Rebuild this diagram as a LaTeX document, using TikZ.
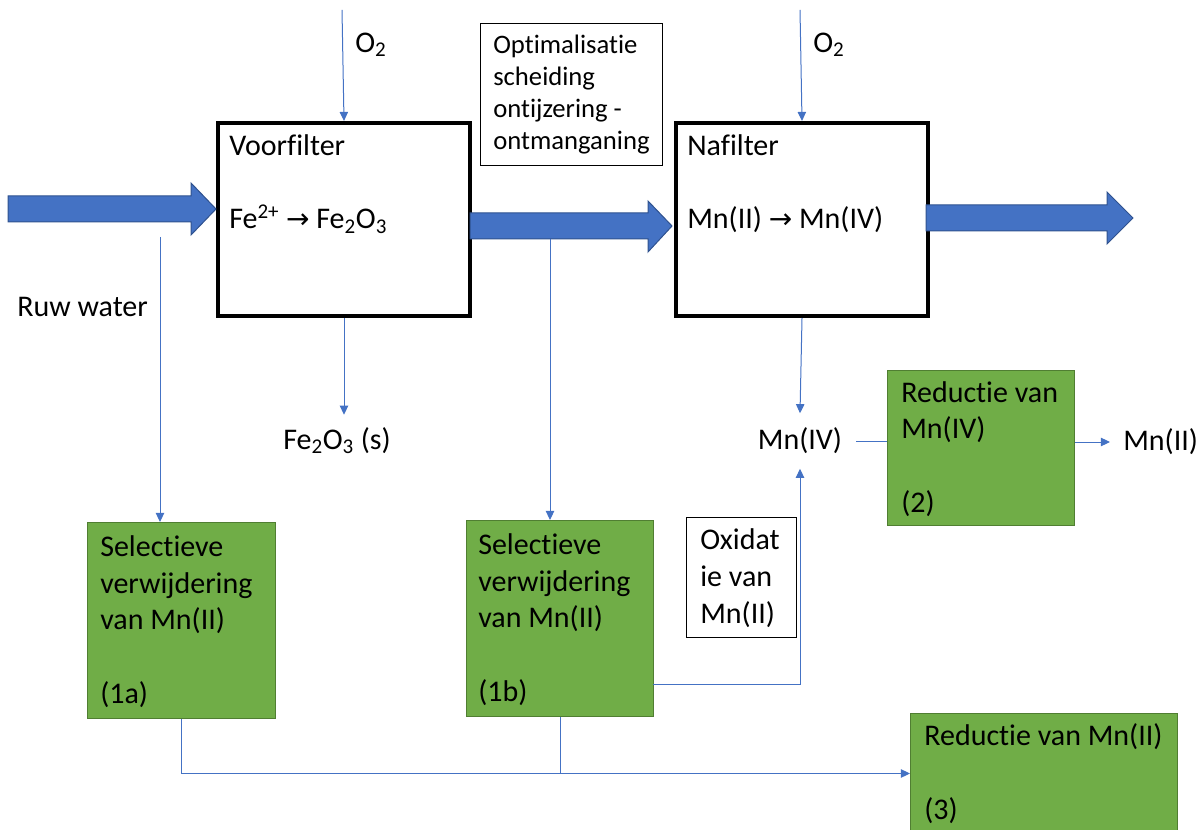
\documentclass[tikz,border=0pt]{standalone}
\usepackage{fontspec}
\setmainfont{Carlito}[Ligatures=NoCommon]
\newfontfamily\arrowfont{DejaVu Sans}
\usetikzlibrary{arrows.meta,positioning}

\definecolor{officeblue}{HTML}{4472C4}
\definecolor{arrowedge}{HTML}{2F528F}
\definecolor{officegreen}{HTML}{70AD47}
\definecolor{greenedge}{HTML}{507E32}

\newcommand{\reacts}{{\arrowfont\fontsize{21}{22}\selectfont →}}

\begin{document}
\begin{tikzpicture}[x=0.75pt, y=-0.75pt,
  flow/.style={draw=officeblue, line width=0.75pt},
  flowarrow/.style={flow, -{Triangle[width=6.3pt,length=6.8pt]}},
  bigarrow/.style={fill=officeblue, draw=arrowedge, line width=0.75pt},
  filterbox/.style={draw=black, line width=3pt, anchor=north west, inner sep=0pt,
    minimum width=252*0.75pt, minimum height=193*0.75pt},
  stepbox/.style={draw=greenedge, fill=officegreen, line width=0.75pt, anchor=north west, inner sep=0pt},
  notebox/.style={draw=black, line width=0.75pt, anchor=north west, inner sep=0pt},
  % text blocks are placed by the baseline of their last line
  boxtext/.style={anchor=base west, inner sep=0pt, align=left, font=\fontsize{22.5}{27.5}\selectfont},
  smalltext/.style={boxtext, font=\fontsize{20}{24}\selectfont},
  lbl/.style={font=\fontsize{22.5}{27.5}\selectfont}
]

  \useasboundingbox (0,0) rectangle (1201,830);

  % Filters
  \node[filterbox] (vf) at (216,121) {};
  \node[filterbox] (nf) at (674,121) {};
  \node[boxtext] (vf-txt) at (229,229) {Voorfilter\\[27.5pt]Fe\textsuperscript{2+} \reacts{} Fe\textsubscript{2}O\textsubscript{3}};
  \node[boxtext] (nf-txt) at (687,229) {Nafilter\\[27.5pt]Mn(II) \reacts{} Mn(IV)};

  % Note between the filters
  \node[notebox, minimum width=182*0.75pt, minimum height=142*0.75pt] (opt) at (480,23) {};
  \node[smalltext] (opt-txt) at (493,150) {Optimalisatie\\scheiding\\ontijzering -\\ontmanganing};

  % Main water flow
  \draw[bigarrow] (8,196) -- (191,196) -- (191,183) -- (216,209) -- (191,235) -- (191,222) -- (8,222) -- cycle;
  \draw[bigarrow] (470,213) -- (648,213) -- (648,201) -- (672,226) -- (648,252) -- (648,239) -- (470,239) -- cycle;
  \draw[bigarrow] (926,205) -- (1107,205) -- (1107,192) -- (1133,218) -- (1107,244) -- (1107,231) -- (926,231) -- cycle;

  % Oxygen feeds
  \coordinate (o2-vf) at (342,10);
  \coordinate (o2-nf) at (800,10);
  \draw[flowarrow] (o2-vf) -- (vf.north);
  \draw[flowarrow] (o2-nf) -- (nf.north);
  \node[lbl, anchor=west, inner sep=0pt] (o2-vf-lbl) at (355,45) {O\textsubscript{2}};
  \node[lbl, anchor=west, inner sep=0pt] (o2-nf-lbl) at (813,45) {O\textsubscript{2}};

  % Iron sludge
  \node[lbl, minimum height=52*0.75pt] (fes) at (337,441) {Fe\textsubscript{2}O\textsubscript{3} (s)};
  \draw[flowarrow] (vf.south) -- (vf.south |- fes.north);

  % Raw water
  \node[lbl, anchor=west, inner sep=0pt] (ruw) at (17,307) {Ruw water};

  % Selective removal
  \node[stepbox, minimum width=188*0.75pt, minimum height=196*0.75pt] (s1a) at (87,522) {};
  \node[boxtext] (s1a-txt) at (100,703) {Selectieve\\verwijdering\\van Mn(II)\\[27.5pt](1a)};
  \node[stepbox, minimum width=187*0.75pt, minimum height=196*0.75pt] (s1b) at (466,520) {};
  \node[boxtext] (s1b-txt) at (478,701) {Selectieve\\verwijdering\\van Mn(II)\\[27.5pt](1b)};

  \coordinate (ruw-split) at (160,237);
  \coordinate (mid-split) at (550,239);
  \draw[flowarrow] (ruw-split) -- (ruw-split |- s1a.north);
  \draw[flowarrow] (mid-split) -- (mid-split |- s1b.north);

  % Mn(IV) from the afterfilter
  \node[lbl, minimum height=55*0.75pt, inner xsep=14*0.75pt] (mn4) at (800,441) {Mn(IV)};
  \draw[flowarrow] (nf.south) -- (mn4.north);

  % Reduction of Mn(IV)
  \node[stepbox, minimum width=187*0.75pt, minimum height=155*0.75pt] (r2) at (887,370) {};
  \node[boxtext] (r2-txt) at (901,512) {Reductie van\\Mn(IV)\\[27.5pt](2)};
  \node[lbl, anchor=west, inner xsep=13*0.75pt] (mn2) at (1110,442) {Mn(II)};
  \draw[flow] (mn4.east) -- (mn4.east -| r2.west);
  \draw[flowarrow] (mn2.west -| r2.east) -- (mn2.west);

  % Oxidation
  \node[notebox, minimum width=110*0.75pt, minimum height=120*0.75pt] (ox) at (686,517) {};
  \node[boxtext] (ox-txt) at (700,623) {Oxidat\\ie van\\Mn(II)};
  \coordinate (ox-start) at (653,684);
  \draw[flowarrow] (ox-start) -| (mn4.south);

  % Reduction of Mn(II)
  \node[stepbox, minimum width=267*0.75pt, minimum height=120*0.75pt] (r3) at (910,713) {};
  \node[boxtext] (r3-txt) at (924,819) {Reductie van Mn(II)\\[27.5pt](3)};
  \draw[flowarrow] (s1a.south) |- (r3.west);
  \draw[flow] (s1b.south) -- (s1b.south |- r3.west);

\end{tikzpicture}
\end{document}
